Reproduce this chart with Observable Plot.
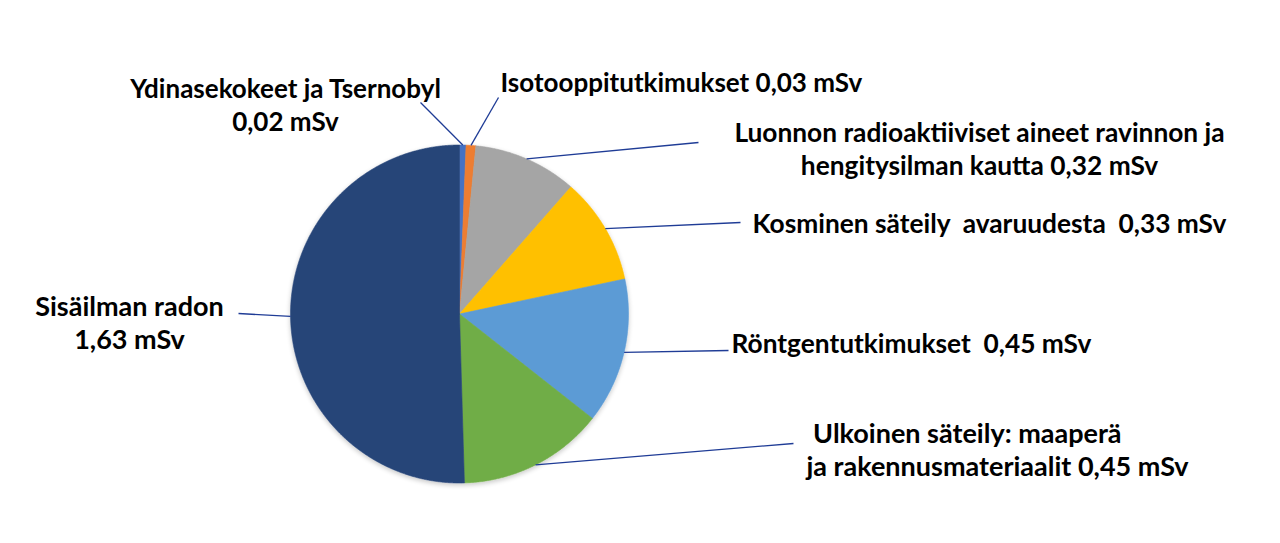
<!DOCTYPE html>
<html>
<head>
<meta charset="utf-8">
<script src="https://cdn.jsdelivr.net/npm/d3@7"></script>
<script src="https://cdn.jsdelivr.net/npm/@observablehq/plot@0.6"></script>
<style>
  html, body { margin: 0; padding: 0; background: #fff; }
  #chart { width: 1280px; height: 543px; }
</style>
</head>
<body>
<div id="chart"></div>
<script>
// ---- data ----
const categories = [
  "Ydinasekokeet ja Tsernobyl",
  "Isotooppitutkimukset",
  "Luonnon radioaktiiviset aineet ravinnon ja hengitysilman kautta",
  "Kosminen säteily avaruudesta",
  "Röntgentutkimukset",
  "Ulkoinen säteily: maaperä ja rakennusmateriaalit",
  "Sisäilman radon"
];
const values = [0.02, 0.03, 0.32, 0.33, 0.45, 0.45, 1.63];
const labelTexts = [
  "Ydinasekokeet ja Tsernobyl\n0,02 mSv",
  "Isotooppitutkimukset 0,03 mSv",
  "Luonnon radioaktiiviset aineet ravinnon ja\nhengitysilman kautta 0,32 mSv",
  "Kosminen säteily\u00a0 avaruudesta\u00a0 0,33 mSv",
  "Röntgentutkimukset\u00a0 0,45 mSv",
  "\u00a0Ulkoinen säteily: maaperä\nja rakennusmateriaalit 0,45\u00a0mSv",
  "Sisäilman radon\n1,63 mSv"
];
const colors = ["#4472C4", "#ED7D31", "#A5A5A5", "#FFC000", "#5B9BD5", "#70AD47", "#264478"];

// ---- layout (not data) ----
const W = 1280, H = 543;
const cx = 459, cy = 313.5, R = 169;
const labelLayout = [
  {x: 285, y: 103.5, anchor: "middle", lx: 420, ly: 102, size: 26},
  {x: 500, y: 81, anchor: "start", lx: 498, ly: 97, size: 26},
  {x: 979, y: 147.5, anchor: "middle", lx: 698, ly: 142, size: 26.3},
  {x: 752, y: 222, anchor: "start", lx: 740, ly: 222, size: 26.3},
  {x: 731, y: 342, anchor: "start", lx: 728, ly: 350, size: 26.3},
  {x: 806, y: 448.5, anchor: "start", lx: 793, ly: 443, size: 27},
  {x: 129, y: 321.5, anchor: "middle", lx: 238, ly: 313, size: 27}
];

const arcs = d3.pie().sort(null).value(d => d)(values);

const slices = arcs.map((a, i) => {
  const pts = [{x: cx, y: cy}];
  const n = Math.max(4, Math.ceil((a.endAngle - a.startAngle) / 0.005));
  for (let k = 0; k <= n; k++) {
    const t = a.startAngle + (a.endAngle - a.startAngle) * k / n;
    pts.push({x: cx + R * Math.sin(t), y: cy - R * Math.cos(t)});
  }
  pts.push({x: cx, y: cy});
  return {name: categories[i], color: colors[i], pts};
});

const leaders = arcs.map((a, i) => {
  const m = (a.startAngle + a.endAngle) / 2;
  return {
    x1: cx + R * Math.sin(m), y1: cy - R * Math.cos(m),
    x2: labelLayout[i].lx, y2: labelLayout[i].ly
  };
});

const labels = labelLayout.map((l, i) => ({...l, text: labelTexts[i]}));

const marks = [];
slices.forEach(s => {
  marks.push(Plot.line(s.pts, {x: "x", y: "y", fill: s.color, stroke: s.color, strokeWidth: 0.6, curve: "linear"}));
});
marks.push(Plot.link(leaders, {x1: "x1", y1: "y1", x2: "x2", y2: "y2", stroke: "#1F3C96", strokeWidth: 1.3}));
labels.forEach(l => {
  marks.push(Plot.text([l], {
    x: "x", y: "y", text: "text", textAnchor: l.anchor, lineAnchor: "middle",
    fontSize: l.size, fontWeight: "bold", fill: "#000", lineHeight: 33 / l.size
  }));
});

const chart = Plot.plot({
  width: W, height: H,
  marginTop: 0, marginRight: 0, marginBottom: 0, marginLeft: 0,
  x: {domain: [0, W], range: [0, W], axis: null},
  y: {domain: [0, H], range: [0, H], axis: null},
  style: {background: "#fff", fontFamily: "Lato, 'Open Sans', sans-serif"},
  marks
});

// subtle drop shadow under the pie (decoration only)
try {
  const ns = "http://www.w3.org/2000/svg";
  const mk = (tag, attrs) => {
    const e = document.createElementNS(ns, tag);
    for (const k in attrs) e.setAttribute(k, attrs[k]);
    return e;
  };
  const defs = mk("defs", {});
  const filter = mk("filter", {id: "pieShadow", x: "-10%", y: "-10%", width: "120%", height: "125%"});
  filter.appendChild(mk("feGaussianBlur", {in: "SourceAlpha", stdDeviation: "2.5", result: "blur"}));
  filter.appendChild(mk("feOffset", {in: "blur", dx: "0", dy: "2", result: "off"}));
  const ct = mk("feComponentTransfer", {in: "off", result: "shadow"});
  ct.appendChild(mk("feFuncA", {type: "linear", slope: "0.22"}));
  filter.appendChild(ct);
  const merge = mk("feMerge", {});
  merge.appendChild(mk("feMergeNode", {in: "shadow"}));
  merge.appendChild(mk("feMergeNode", {in: "SourceGraphic"}));
  filter.appendChild(merge);
  defs.appendChild(filter);
  chart.insertBefore(defs, chart.firstChild);
  const groups = Array.from(chart.querySelectorAll(':scope > g[aria-label="line"]'));
  if (groups.length === slices.length) {
    const wrap = mk("g", {filter: "url(#pieShadow)"});
    groups[0].parentNode.insertBefore(wrap, groups[0]);
    groups.forEach(g => wrap.appendChild(g));
  }
} catch (e) {}

document.getElementById("chart").appendChild(chart);
</script>
</body>
</html>
